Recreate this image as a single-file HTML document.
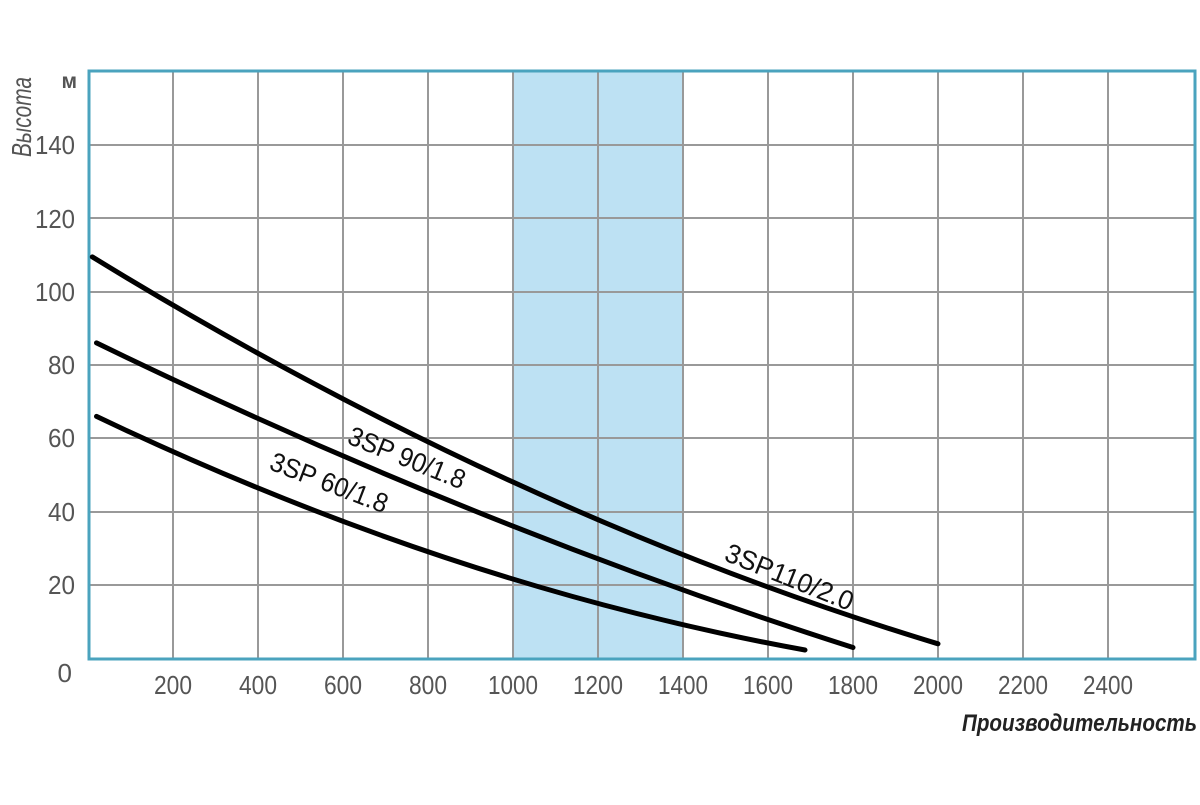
<!DOCTYPE html>
<html><head><meta charset="utf-8"><style>
body{margin:0;background:#fff;}
svg text{font-family:"Liberation Sans",sans-serif;}
</style></head><body>
<svg width="1200" height="800" viewBox="0 0 1200 800" xmlns="http://www.w3.org/2000/svg">
<rect x="513" y="71" width="169" height="588" fill="#bde1f3"/>
<g stroke="#999" stroke-width="2">
<line x1="173" y1="71" x2="173" y2="659"/><line x1="258" y1="71" x2="258" y2="659"/>
<line x1="343" y1="71" x2="343" y2="659"/><line x1="428" y1="71" x2="428" y2="659"/>
<line x1="513" y1="71" x2="513" y2="659"/><line x1="598" y1="71" x2="598" y2="659"/>
<line x1="683" y1="71" x2="683" y2="659"/><line x1="768" y1="71" x2="768" y2="659"/>
<line x1="853" y1="71" x2="853" y2="659"/><line x1="938" y1="71" x2="938" y2="659"/>
<line x1="1023" y1="71" x2="1023" y2="659"/><line x1="1108" y1="71" x2="1108" y2="659"/>
<line x1="88" y1="145" x2="1195" y2="145"/><line x1="88" y1="218" x2="1195" y2="218"/>
<line x1="88" y1="292" x2="1195" y2="292"/><line x1="88" y1="365" x2="1195" y2="365"/>
<line x1="88" y1="438" x2="1195" y2="438"/><line x1="88" y1="512" x2="1195" y2="512"/>
<line x1="88" y1="585" x2="1195" y2="585"/>
</g>
<rect x="89" y="71" width="1106" height="588" fill="none" stroke="#4aa3be" stroke-width="3"/>
<g fill="none" stroke="#000" stroke-width="5" stroke-linecap="round">
<path d="M92.3,256.9 Q515.1,515.8 938,643.8"/>
<path d="M96.5,342.9 Q474.8,526.7 853,647.5"/>
<path d="M96.5,416.4 Q453.5,586.4 805,650"/>
</g>
<g fill="#111" font-size="27">
<text transform="translate(346,443) rotate(22)" textLength="124" lengthAdjust="spacingAndGlyphs">3SP 90/1.8</text>
<text transform="translate(268,469) rotate(21)" textLength="124" lengthAdjust="spacingAndGlyphs">3SP 60/1.8</text>
<text transform="translate(723,560) rotate(22)" textLength="136" lengthAdjust="spacingAndGlyphs">3SP110/2.0</text>
</g>
<g fill="#555" font-size="26" text-anchor="end">
<text x="77" y="88" font-size="21" font-weight="bold">м</text>
<text x="75" y="154" textLength="40" lengthAdjust="spacingAndGlyphs">140</text><text x="75" y="228" textLength="40" lengthAdjust="spacingAndGlyphs">120</text>
<text x="75" y="301" textLength="40" lengthAdjust="spacingAndGlyphs">100</text><text x="75" y="374" textLength="27" lengthAdjust="spacingAndGlyphs">80</text>
<text x="75" y="447" textLength="27" lengthAdjust="spacingAndGlyphs">60</text><text x="75" y="521" textLength="27" lengthAdjust="spacingAndGlyphs">40</text>
<text x="75" y="594" textLength="27" lengthAdjust="spacingAndGlyphs">20</text><text x="72" y="682">0</text>
</g>
<g fill="#555" font-size="26" text-anchor="middle">
<text x="173" y="694" textLength="38" lengthAdjust="spacingAndGlyphs">200</text><text x="258" y="694" textLength="38" lengthAdjust="spacingAndGlyphs">400</text><text x="343" y="694" textLength="38" lengthAdjust="spacingAndGlyphs">600</text>
<text x="428" y="694" textLength="38" lengthAdjust="spacingAndGlyphs">800</text><text x="513" y="694" textLength="50" lengthAdjust="spacingAndGlyphs">1000</text><text x="598" y="694" textLength="50" lengthAdjust="spacingAndGlyphs">1200</text>
<text x="683" y="694" textLength="50" lengthAdjust="spacingAndGlyphs">1400</text><text x="768" y="694" textLength="50" lengthAdjust="spacingAndGlyphs">1600</text><text x="853" y="694" textLength="50" lengthAdjust="spacingAndGlyphs">1800</text>
<text x="938" y="694" textLength="50" lengthAdjust="spacingAndGlyphs">2000</text><text x="1023" y="694" textLength="50" lengthAdjust="spacingAndGlyphs">2200</text><text x="1108" y="694" textLength="50" lengthAdjust="spacingAndGlyphs">2400</text>
</g>
<text x="962" y="731" fill="#222" font-size="24" font-style="italic" font-weight="bold" textLength="235" lengthAdjust="spacingAndGlyphs">Производительность</text>
<text transform="translate(31,157) rotate(-90)" fill="#555" font-size="28" font-style="italic" textLength="80" lengthAdjust="spacingAndGlyphs">Высота</text>
</svg>
</body></html>
